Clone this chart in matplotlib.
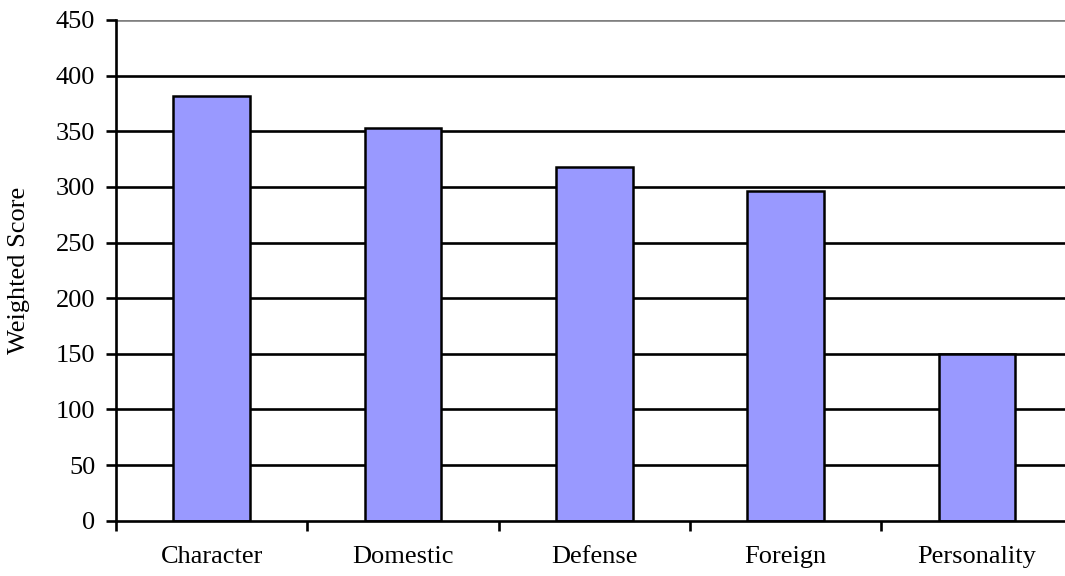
import numpy as np
import matplotlib
matplotlib.use("Agg")
import matplotlib.pyplot as plt

categories = ["Character", "Domestic", "Defense", "Foreign", "Personality"]
scores = [382, 353, 318, 296, 150]
yticks = [0, 50, 100, 150, 200, 250, 300, 350, 400, 450]

plt.rcParams['font.family'] = ['Liberation Serif', 'DejaVu Serif']

fig = plt.figure(figsize=(10.65, 5.76), dpi=100)
# plot area runs slightly past the right edge, like the original
ax = fig.add_axes([116/1065, 55.3/576, 956.5/1065, 500.7/576])

x = np.arange(len(categories))
ax.bar(x, scores, width=0.4, color="#9999FF", edgecolor="black", linewidth=1.8, zorder=3)

ax.set_xlim(-0.5, len(categories) - 0.5)
ax.set_ylim(0, 450)
ax.set_yticks(yticks)
ax.set_yticklabels([str(v) for v in yticks], fontsize=19)

for v in yticks[1:]:
    ax.axhline(v, color="#808080" if v == 450 else "black", lw=1.9, zorder=1)

# category boundaries get the ticks, labels sit in the middle
ax.set_xticks(np.arange(len(categories) + 1) - 0.5)
ax.set_xticklabels([])
ax.set_xticks(x, minor=True)
ax.set_xticklabels(categories, minor=True, fontsize=19)
ax.tick_params(axis="x", which="major", length=7, width=1.9, direction="out")
ax.tick_params(axis="x", which="minor", length=0, pad=18)
ax.tick_params(axis="y", length=7, width=1.9, direction="out", pad=8)

ax.spines["top"].set_visible(False)
ax.spines["right"].set_visible(False)
ax.spines["left"].set_linewidth(1.9)
ax.spines["bottom"].set_linewidth(1.9)
ax.spines["left"].set_zorder(4)
ax.spines["bottom"].set_zorder(4)

fig.text(19/1065, 1 - 270/576, "Weighted Score", rotation=90, fontsize=19,
         ha="center", va="center")

plt.savefig("out.png", dpi=100)
